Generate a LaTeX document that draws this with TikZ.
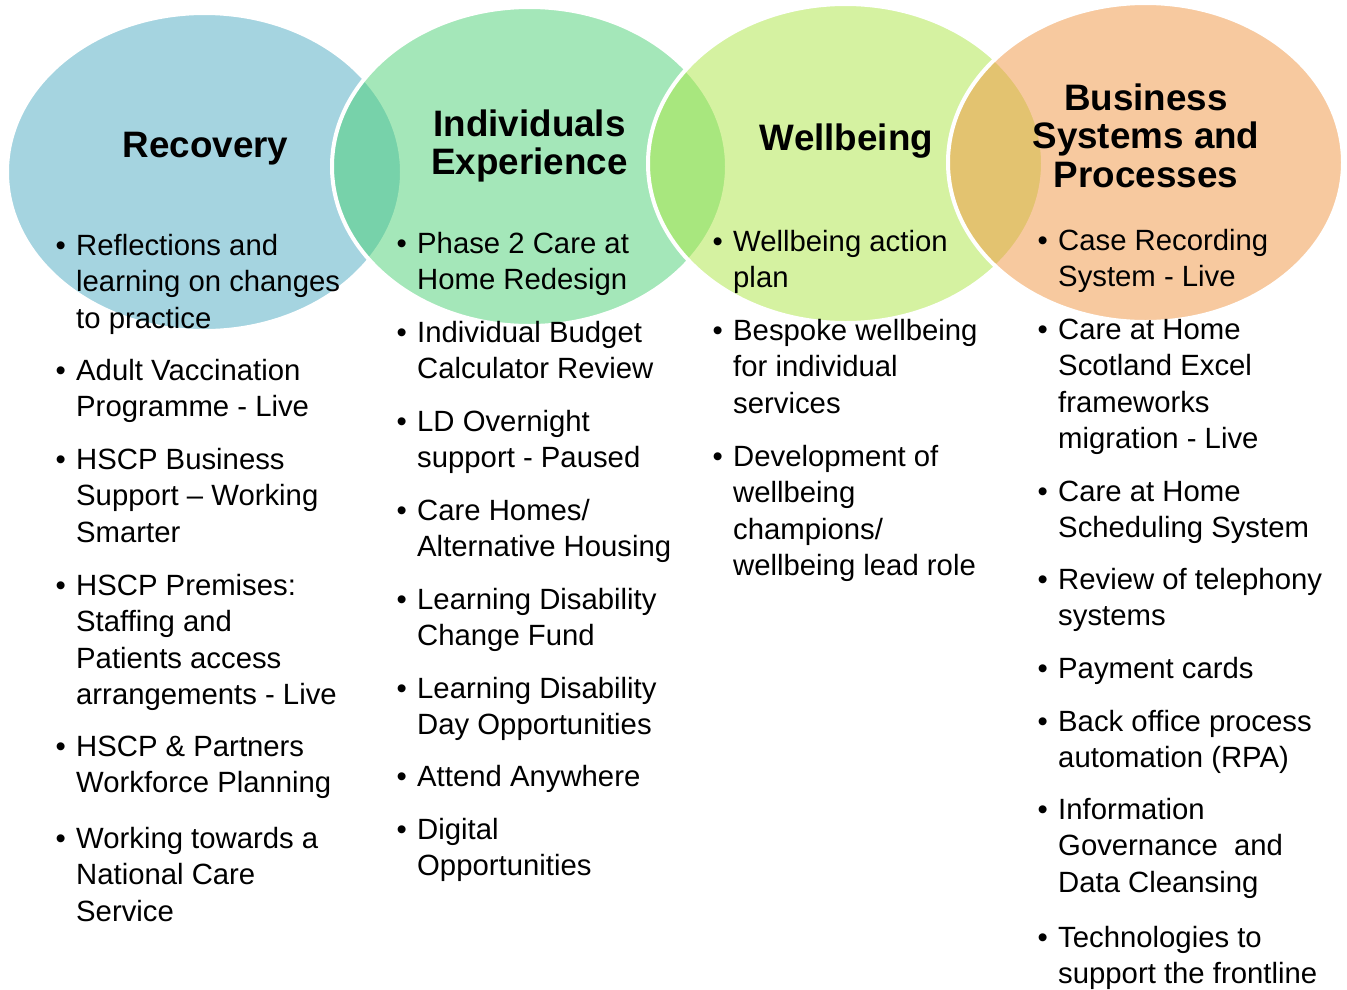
\documentclass[tikz,border=0pt]{standalone}
\usepackage{fontspec}
\setmainfont{Liberation Sans}
\definecolor{cBlue}{RGB}{77,171,195}
\definecolor{cGreen}{RGB}{75,209,117}
\definecolor{cLime}{RGB}{173,231,69}
\definecolor{cOrange}{RGB}{241,149,65}
\newcommand{\itemlines}[1]{\makebox[20.5pt][l]{\textbullet}\begin{tabular}[t]{@{}l@{}}#1\end{tabular}}
\newcommand{\titlelines}[1]{\begin{tabular}[t]{@{}c@{}}#1\end{tabular}}
\tikzset{
  venn/.style={fill=#1, fill opacity=0.5, draw=white, draw opacity=1, line width=4pt},
  bitem/.style={anchor=base west, inner sep=0pt, font=\fontsize{29.3}{36.5}\selectfont},
  vtitle/.style={anchor=base, inner sep=0pt, font=\bfseries\fontsize{36.8}{38.5}\selectfont}
}
\begin{document}
\begin{tikzpicture}[x=1pt,y=-1pt]
\useasboundingbox (0,0) rectangle (1347,989);
\fill[white] (0,0) rectangle (1347,989);
% circles
\draw[venn=cBlue]   (204.5,172) ellipse [x radius=197.5, y radius=159];
\draw[venn=cGreen]  (529.5,166.5) ellipse [x radius=197.5, y radius=159.5];
\draw[venn=cLime]   (845.5,163.5) ellipse [x radius=197.5, y radius=159.5];
\draw[venn=cOrange] (1145.5,162.5) ellipse [x radius=197.5, y radius=159.5];
% titles
\node[vtitle] (t1) at (205.5,157) {\titlelines{Recovery}};
\node[vtitle] (t2) at (529.5,136) {\titlelines{Individuals\\Experience}};
\node[vtitle] (t3) at (846.5,150) {\titlelines{Wellbeing}};
\node[vtitle] (t4) at (1146,110) {\titlelines{Business\\Systems and\\Processes}};
% column 1
\node[bitem] (a1) at (55.5,255) {\itemlines{Reflections and\\learning on changes\\to practice}};
\node[bitem] (a2) at (55.5,380) {\itemlines{Adult Vaccination\\Programme - Live}};
\node[bitem] (a3) at (55.5,469) {\itemlines{HSCP Business\\Support – Working\\Smarter}};
\node[bitem] (a4) at (55.5,595) {\itemlines{HSCP Premises:\\Staffing and\\Patients access\\arrangements - Live}};
\node[bitem] (a5) at (55.5,756) {\itemlines{HSCP \& Partners\\Workforce Planning}};
\node[bitem] (a6) at (55.5,848) {\itemlines{Working towards a\\National Care\\Service}};
% column 2
\node[bitem] (b1) at (396.5,253) {\itemlines{Phase 2 Care at\\Home Redesign}};
\node[bitem] (b2) at (396.5,342) {\itemlines{Individual Budget\\Calculator Review}};
\node[bitem] (b3) at (396.5,431) {\itemlines{LD Overnight\\support - Paused}};
\node[bitem] (b4) at (396.5,520) {\itemlines{Care Homes/\\Alternative Housing}};
\node[bitem] (b5) at (396.5,609) {\itemlines{Learning Disability\\Change Fund}};
\node[bitem] (b6) at (396.5,698) {\itemlines{Learning Disability\\Day Opportunities}};
\node[bitem] (b7) at (396.5,786) {\itemlines{Attend Anywhere}};
\node[bitem] (b8) at (396.5,839) {\itemlines{Digital\\Opportunities}};
% column 3
\node[bitem] (c1) at (712.5,251) {\itemlines{Wellbeing action\\plan}};
\node[bitem] (c2) at (712.5,340) {\itemlines{Bespoke wellbeing\\for individual\\services}};
\node[bitem] (c3) at (712.5,466) {\itemlines{Development of\\wellbeing\\champions/\\wellbeing lead role}};
% column 4
\node[bitem] (d1) at (1037.5,250) {\itemlines{Case Recording\\System - Live}};
\node[bitem] (d2) at (1037.5,339) {\itemlines{Care at Home\\Scotland Excel\\frameworks\\migration - Live}};
\node[bitem] (d3) at (1037.5,501) {\itemlines{Care at Home\\Scheduling System}};
\node[bitem] (d4) at (1037.5,589) {\itemlines{Review of telephony\\systems}};
\node[bitem] (d5) at (1037.5,678) {\itemlines{Payment cards}};
\node[bitem] (d6) at (1037.5,731) {\itemlines{Back office process\\automation (RPA)}};
\node[bitem] (d7) at (1037.5,819) {\itemlines{Information\\Governance~ and\\Data Cleansing}};
\node[bitem] (d8) at (1037.5,947) {\itemlines{Technologies to\\support the frontline}};
\end{tikzpicture}
\end{document}
